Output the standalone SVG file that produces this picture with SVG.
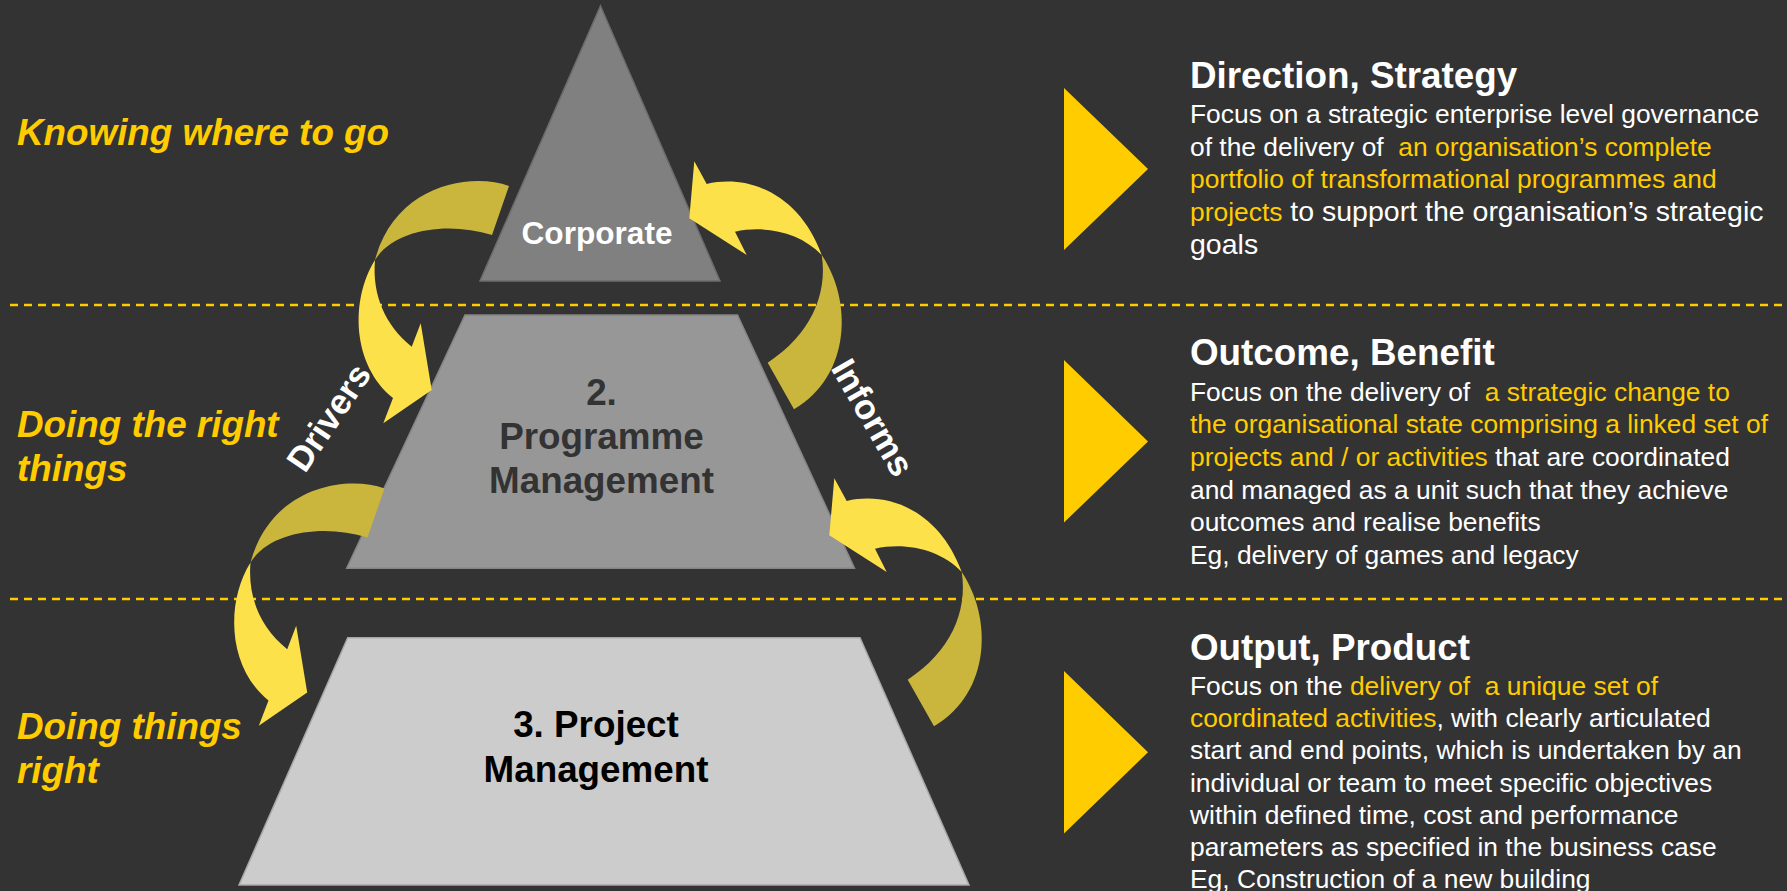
<svg xmlns="http://www.w3.org/2000/svg" xmlns:xlink="http://www.w3.org/1999/xlink" width="1787" height="891" viewBox="0 0 1787 891">
  <style>
    .sans { font-family: "Liberation Sans", Arial, sans-serif; white-space: pre; }
    .level { font-weight: bold; font-style: italic; font-size: 36.8px; fill: #FFCC00; }
    .tier { font-weight: bold; font-size: 36.8px; text-anchor: middle; }
    .head { font-weight: bold; font-size: 36.8px; fill: #FFFFFF; }
    .body { font-size: 26.4px; fill: #FFFFFF; }
    .big { font-size: 28.5px; }
    .hl { fill: #FFCC00; }
    .flow { font-weight: bold; font-size: 35px; fill: #FFFFFF; text-anchor: middle; }
    .divider { stroke: #FFCC00; stroke-width: 2.5; stroke-dasharray: 8 6; fill: none; }
    .back { fill: #CAB63C; }
    .front { fill: #FDE14A; }
    .pointer { fill: #FFCC00; }
  </style>
  <defs>
    <!-- curved ribbon arrow turning down-left onto the tier below -->
    <g id="arrowDown">
      <path class="back" d="M509,186 C470,172 395,185 375,260 C395,228 450,222 492,235 Z"/>
      <path class="front" d="M375,260 C350,300 352,365 393,398 L383.3,423.3 L431.7,390 L420.7,323.3 L411.7,346.7 C385,325 372,295 375,260 Z"/>
    </g>
    <!-- curved ribbon arrow turning up-left onto the tier above -->
    <g id="arrowUp">
      <path class="back" d="M821.7,255 C852,300 852,375 794,409.3 L767.7,362.7 C810,335 828,295 821.7,255 Z"/>
      <path class="front" d="M821.7,255 C800,232 765,225 735,231.7 L746.7,255 L689.3,218.3 L694.3,161.3 L706.7,184 C750,174 800,195 821.7,255 Z"/>
    </g>
  </defs>

  <rect width="1787" height="891" fill="#333333"/>

  <!-- band dividers -->
  <g id="dividers">
    <line class="divider" x1="10" y1="305" x2="1787" y2="305"/>
    <line class="divider" x1="10" y1="599" x2="1787" y2="599"/>
  </g>

  <!-- level captions -->
  <g id="captions" class="sans">
    <text class="level" x="17" y="145">Knowing where to go</text>
    <text class="level" x="17" y="436.7">Doing the right</text>
    <text class="level" x="17" y="480.5">things</text>
    <text class="level" x="17" y="739.3">Doing things</text>
    <text class="level" x="17" y="782.5">right</text>
  </g>

  <!-- pyramid tiers -->
  <g id="corporate">
    <polygon points="600.5,6 720,281 480,281" fill="#808080" stroke="#6c6c6c" stroke-width="1.5"/>
    <text class="sans" x="597" y="244" font-weight="bold" font-size="31.6" fill="#FFFFFF" text-anchor="middle">Corporate</text>
  </g>
  <g id="programme">
    <polygon points="465,315 737.5,315 854.5,568.3 346.7,568.3" fill="#979797" stroke="#858585" stroke-width="1.5"/>
    <text class="sans tier" fill="#333333" x="601.5" y="405">2.</text>
    <text class="sans tier" fill="#333333" x="601.5" y="449.3">Programme</text>
    <text class="sans tier" fill="#333333" x="601.5" y="493.3">Management</text>
  </g>
  <g id="project">
    <polygon points="347.7,637.7 860,637.7 969,885 239,885" fill="#CCCCCC" stroke="#a8a8a8" stroke-width="1.5"/>
    <text class="sans tier" fill="#000000" x="596" y="736.7">3. Project</text>
    <text class="sans tier" fill="#000000" x="596" y="781.7">Management</text>
  </g>

  <!-- feedback arrows between tiers -->
  <g id="connectors">
    <use xlink:href="#arrowDown"/>
    <use xlink:href="#arrowDown" transform="translate(-124.5,302.5)"/>
    <use xlink:href="#arrowUp"/>
    <use xlink:href="#arrowUp" transform="translate(140,317)"/>
    <text class="sans flow" transform="translate(328.8,417.5) rotate(-56)" y="12">Drivers</text>
    <text class="sans flow" transform="translate(872.7,417.5) rotate(60)" y="12">Informs</text>
  </g>

  <!-- descriptions -->
  <g id="direction">
    <polygon class="pointer" points="1064,88 1148,169 1064,250"/>
    <text class="sans head" x="1190" y="88">Direction, Strategy</text>
    <text class="sans body" x="1190" y="123">Focus on a strategic enterprise level governance</text>
    <text class="sans body" x="1190" y="155.7">of the delivery of  <tspan class="hl">an organisation’s complete</tspan></text>
    <text class="sans body hl" x="1190" y="188.4">portfolio of transformational programmes and</text>
    <text class="sans body" x="1190" y="221.1"><tspan class="hl">projects</tspan><tspan class="big"> to support the organisation’s strategic</tspan></text>
    <text class="sans body big" x="1190" y="253.8">goals</text>
  </g>
  <g id="outcome">
    <polygon class="pointer" points="1064,360 1148,441.5 1064,522.5"/>
    <text class="sans head" x="1190" y="365">Outcome, Benefit</text>
    <text class="sans body" x="1190" y="400.5">Focus on the delivery of  <tspan class="hl">a strategic change to</tspan></text>
    <text class="sans body hl" x="1190" y="433.2">the organisational state comprising a linked set of</text>
    <text class="sans body" x="1190" y="465.9"><tspan class="hl">projects and / or activities</tspan> that are coordinated</text>
    <text class="sans body" x="1190" y="498.6">and managed as a unit such that they achieve</text>
    <text class="sans body" x="1190" y="531.3">outcomes and realise benefits</text>
    <text class="sans body" x="1190" y="564">Eg, delivery of games and legacy</text>
  </g>
  <g id="output">
    <polygon class="pointer" points="1064,671 1148,752.3 1064,833.5"/>
    <text class="sans head" x="1190" y="660">Output, Product</text>
    <text class="sans body" x="1190" y="695">Focus on the <tspan class="hl">delivery of  a unique set of</tspan></text>
    <text class="sans body" x="1190" y="727.2"><tspan class="hl">coordinated activities</tspan>, with clearly articulated</text>
    <text class="sans body" x="1190" y="759.4">start and end points, which is undertaken by an</text>
    <text class="sans body" x="1190" y="791.6">individual or team to meet specific objectives</text>
    <text class="sans body" x="1190" y="823.8">within defined time, cost and performance</text>
    <text class="sans body" x="1190" y="856">parameters as specified in the business case</text>
    <text class="sans body" x="1190" y="888.2">Eg, Construction of a new building</text>
  </g>
</svg>
